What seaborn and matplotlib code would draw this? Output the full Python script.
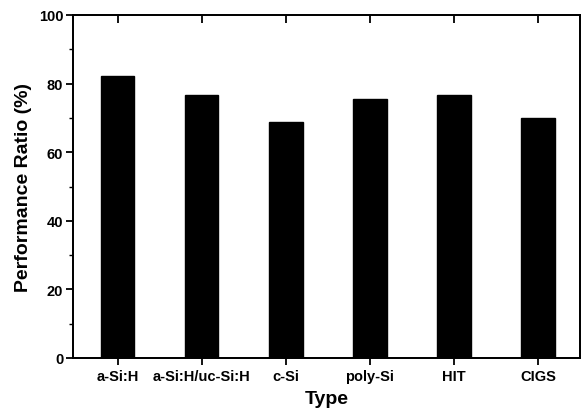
import numpy as np
import pandas as pd
import seaborn as sns
import matplotlib
matplotlib.use('Agg')
import matplotlib.pyplot as plt
from matplotlib.ticker import MultipleLocator

# values
types = ['a-Si:H', 'a-Si:H/uc-Si:H', 'c-Si', 'poly-Si', 'HIT', 'CIGS']
ratio = [82.1, 76.7, 68.9, 75.5, 76.7, 69.9]

df = pd.DataFrame({'Type': types, 'Performance Ratio (%)': ratio})

sns.set_theme(style='ticks')
plt.rcParams['font.family'] = ['Liberation Sans', 'DejaVu Sans']
plt.rcParams['font.weight'] = 'bold'

fig = plt.figure(figsize=(5.83, 4.14), dpi=100)
ax = fig.add_axes([73 / 583, 1 - 359 / 414, (580 - 73) / 583, (359 - 16) / 414])

sns.barplot(data=df, x='Type', y='Performance Ratio (%)', color='black',
            saturation=1, width=0.4, edgecolor='black', ax=ax)

ax.set_xlim(-0.53, 5.5)
ax.set_ylim(0, 100)
ax.yaxis.set_major_locator(MultipleLocator(20))
ax.yaxis.set_minor_locator(MultipleLocator(10))

for s in ax.spines.values():
    s.set_visible(True)
    s.set_linewidth(1.3)
    s.set_color('black')

ax.tick_params(axis='x', which='major', direction='out', length=5, width=1.3,
               labelsize=10.5, pad=3, colors='black', top=False)
ax.tick_params(axis='y', which='major', direction='out', length=5, width=1.3,
               labelsize=10.5, pad=2, colors='black')
ax.tick_params(axis='y', which='minor', direction='out', length=3, width=1.0,
               left=True, colors='black')

# mirrored top ticks point into the axes
top = ax.twiny()
top.set_xlim(ax.get_xlim())
top.set_xticks(range(len(types)))
top.tick_params(axis='x', direction='in', length=6, width=1.3, labeltop=False,
                colors='black')
for s in top.spines.values():
    s.set_linewidth(1.3)
    s.set_color('black')

for lab in ax.get_xticklabels() + ax.get_yticklabels():
    lab.set_fontweight('bold')

ax.set_xlabel('Type', fontsize=14, fontweight='bold', labelpad=5, color='black')
ax.set_ylabel('Performance Ratio (%)', fontsize=14, fontweight='bold', labelpad=5,
              color='black')

fig.savefig('out.png', dpi=100)
